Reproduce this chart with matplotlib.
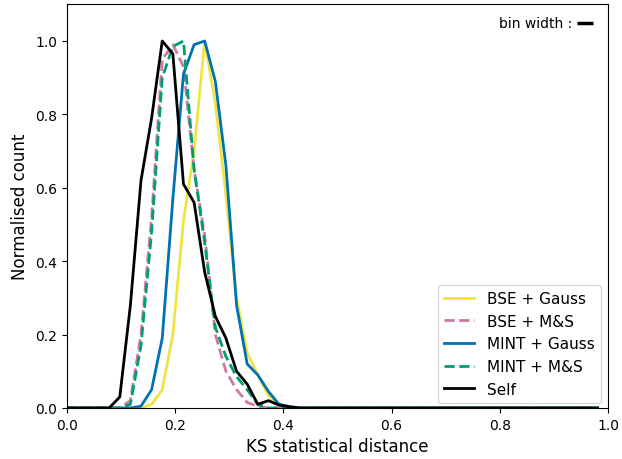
import numpy as np
import matplotlib
matplotlib.use("Agg")
import matplotlib.pyplot as plt

n_bins = 51
bin_width = 1.0 / n_bins

# Normalised counts per bin (left edges k/51, k = 0..50)
bse_gauss = [0, 0, 0, 0, 0, 0, 0, 0, 0.01, 0.05, 0.20, 0.51, 0.70, 1.00, 0.83, 0.58,
             0.30, 0.15, 0.09, 0.035, 0.005] + [0] * 30
bse_ms = [0, 0, 0, 0, 0, 0, 0.02, 0.20, 0.52, 0.95, 0.99, 0.93, 0.65, 0.47, 0.20, 0.10,
          0.05, 0.015, 0.005, 0, 0] + [0] * 30
mint_gauss = [0, 0, 0, 0, 0, 0, 0, 0.005, 0.05, 0.19, 0.57, 0.91, 0.99, 1.00, 0.89, 0.66,
              0.28, 0.12, 0.09, 0.045, 0.01, 0.004] + [0] * 29
mint_ms = [0, 0, 0, 0, 0, 0, 0.01, 0.17, 0.48, 0.90, 0.985, 1.00, 0.65, 0.45, 0.22, 0.14,
           0.085, 0.05, 0.01, 0, 0] + [0] * 30
self_ = [0, 0, 0, 0, 0, 0.03, 0.28, 0.62, 0.79, 1.00, 0.965, 0.61, 0.56, 0.37, 0.25, 0.19,
         0.10, 0.065, 0.01, 0.02, 0.008, 0.003] + [0] * 29

x = np.arange(n_bins) * bin_width

fig = plt.figure(figsize=(6.22, 4.60), dpi=100)
ax = fig.add_axes([0.1072, 0.1109, 0.8706, 0.8776])

ax.plot(x, bse_gauss, color="#F0E442", lw=2, label="BSE + Gauss")
ax.plot(x, bse_ms, color="#CC79A7", lw=2, ls="--", label="BSE + M&S")
ax.plot(x, mint_gauss, color="#0072B2", lw=2, label="MINT + Gauss")
ax.plot(x, mint_ms, color="#009E73", lw=2, ls="--", label="MINT + M&S")
ax.plot(x, self_, color="black", lw=2, label="Self")

ax.set_xlim(0, 1)
ax.set_ylim(0, 1.1)
ax.set_xticks([0.0, 0.2, 0.4, 0.6, 0.8, 1.0])
ax.set_yticks([0.0, 0.2, 0.4, 0.6, 0.8, 1.0])
ax.set_xlabel("KS statistical distance", fontsize=12)
ax.set_ylabel("Normalised count", fontsize=12)

ax.text(0.933, 1.049, "bin width :", ha="right", va="center", fontsize=10)
ax.plot([0.942, 0.972], [1.049, 1.049], color="black", lw=2.5, solid_capstyle="butt")

ax.legend(loc="lower right", fontsize=11, bbox_to_anchor=(1.0, -0.006))

fig.savefig("out.png", dpi=100)
